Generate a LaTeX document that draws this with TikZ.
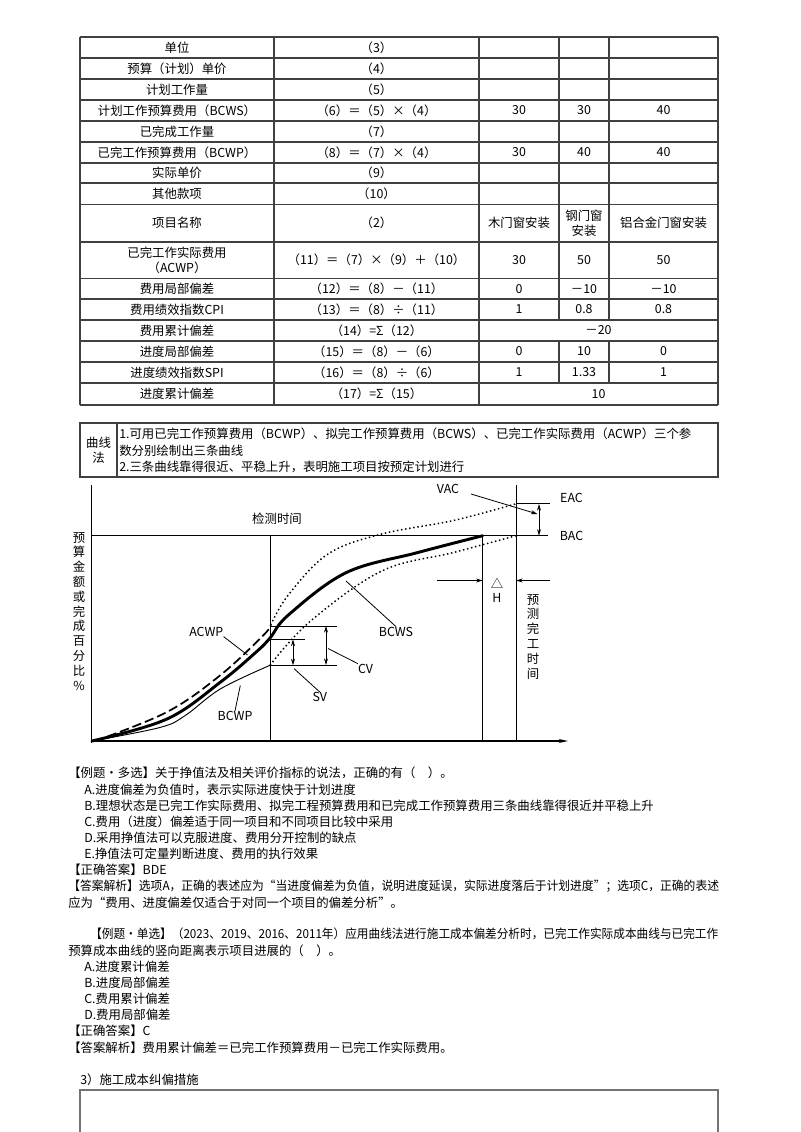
\documentclass[tikz,border=0pt]{standalone}
\usepackage{fontspec}
\usepackage{graphicx}
\setmainfont{Noto Sans CJK SC}
\usetikzlibrary{arrows.meta}
\newcommand\fs{\fontsize{9.3}{11.1}\selectfont}
\tikzset{t/.style={font=\fs,inner sep=0,align=center},
 tl/.style={font=\fs,inner sep=0,anchor=west},
 grid/.style={draw=black!75,line width=0.9pt},
 arr/.style={-{Stealth[length=5pt,width=3pt]},line width=0.6pt},
 darr/.style={{Stealth[length=5pt,width=3pt]}-{Stealth[length=5pt,width=3pt]},line width=0.6pt}}
\begin{document}
\begin{tikzpicture}[x=0.75pt,y=-0.75pt]
\useasboundingbox[fill=white] (0,0) rectangle (800,1132);
% ---------- table ----------
\foreach \y in {37,58,79,100,121,142,163,183,204.5,242,278.5,299,320,341,362,383,405}
  \draw[grid] (80,\y) -- (718,\y);
\foreach \x in {80,274,479,718} \draw[grid] (\x,37) -- (\x,405);
\foreach \x in {559,609} {\draw[grid] (\x,37) -- (\x,320); \draw[grid] (\x,341) -- (\x,383);}
\newcommand\trow[6]{%
 \node[t] (r#1a) at (177,#2) {#3};
 \node[t] (r#1b) at (376.5,#2) {#4};
 \node[t] (r#1c) at (519,#2) {#5};}
\trow{1}{47.5}{单位}{（3）}{}{}
\trow{2}{68.5}{预算（计划）单价}{（4）}{}{}
\trow{3}{89.5}{计划工作量}{（5）}{}{}
\trow{4}{110.5}{计划工作预算费用（BCWS）}{（6）＝（5）×（4）}{30}{}
\trow{5}{131.5}{已完成工作量}{（7）}{}{}
\trow{6}{152.5}{已完工作预算费用（BCWP）}{（8）＝（7）×（4）}{30}{}
\trow{7}{173}{实际单价}{（9）}{}{}
\trow{8}{193.7}{其他款项}{（10）}{}{}
\trow{9}{223.2}{项目名称}{（2）}{木门窗安装}{}
\trow{10}{260.2}{已完工作实际费用\\（ACWP）}{（11）＝（7）×（9）＋（10）}{30}{}
\trow{11}{288.7}{费用局部偏差}{（12）＝（8）－（11）}{0}{}
\trow{12}{309.5}{费用绩效指数CPI}{（13）＝（8）÷（11）}{1}{}
\trow{13}{330.5}{费用累计偏差}{（14）=Σ（12）}{}{}
\trow{14}{351.5}{进度局部偏差}{（15）＝（8）－（6）}{0}{}
\trow{15}{372.5}{进度绩效指数SPI}{（16）＝（8）÷（6）}{1}{}
\trow{16}{394}{进度累计偏差}{（17）=Σ（15）}{}{}
\foreach \n/\y/\b/\c in {4/110.5/30/40,6/152.5/40/40,9/223.2/{钢门窗\\安装}/铝合金门窗安装,10/260.2/50/50,11/288.7/－10/－10,12/309.5/0.8/0.8,14/351.5/10/0,15/372.5/1.33/1}
 {\node[t] (r\n d) at (584,\y) {\b}; \node[t] (r\n e) at (663.5,\y) {\c};}
\node[t] (r13m) at (598.5,330.5) {－20};
\node[t] (r16m) at (598.5,394) {10};
% ---------- curve method box ----------
\draw[grid] (80,423) rectangle (718,477);
\draw[grid] (117,423) -- (117,477);
\node[t] (qx) at (98.5,450) {曲线\\法};
\node[tl] (l1) at (119,434) {1.可用已完工作预算费用（BCWP）、拟完工作预算费用（BCWS）、已完工作实际费用（ACWP）三个参};
\node[tl] (l2) at (119,450.5) {数分别绘制出三条曲线};
\node[tl] (l3) at (119,466.5) {2.三条曲线靠得很近、平稳上升，表明施工项目按预定计划进行};
% ---------- chart ----------
\coordinate (O) at (91.7,741);
\coordinate (Ytop) at (91.7,485);
\coordinate (Xend) at (568,741);
\draw[line width=0.8pt] (Ytop) -- (91.7,743);
\draw[line width=0.8pt,-{Stealth[length=7pt,width=3pt]}] (O) -- (Xend);
\draw[line width=0.6pt] (91.7,535.7) -- (548,535.7);
\draw[line width=0.6pt] (270,535.7) -- (270,741);
\draw[line width=0.6pt] (482.7,535.7) -- (482.7,741);
\draw[line width=0.6pt] (516,485) -- (516,741);
\draw[line width=0.6pt] (516,503.8) -- (550,503.8);
\node[t] (jc) at (277,519) {检测时间};
\node[t] (eac) at (571.5,498) {EAC};
\node[t] (bac) at (571.5,535.7) {BAC};
\draw[darr] (539,504) -- (539,535.7);
\node[t] (vac) at (448,488.6) {VAC};
\draw[arr] (471,494) -- (537.5,514);
% curves
\draw[line width=2.2pt,line cap=round] plot[smooth,tension=0.6] coordinates {(92,741) (167,719) (220.6,682) (256.4,651.8) (270,638) (288.6,614.8) (346,572.7) (417.5,552.6) (482.7,535.7)};
\draw[line width=1.3pt,dash pattern=on 7pt off 3pt] plot[smooth,tension=0.6] coordinates {(95,741) (167,712) (220.6,675) (263.6,635) (270.7,625)};
\draw[line width=0.7pt] plot[smooth,tension=0.6] coordinates {(92,741) (159.8,727.5) (184.8,715.8) (220.6,688.8) (270,665.3)};
\draw[line width=1.1pt,dotted] plot[smooth,tension=0.6] coordinates {(270,665.3) (310,621.5) (381.7,571) (453,552.6) (516,535.7)};
\draw[line width=1.1pt,dotted] plot[smooth,tension=0.6] coordinates {(270.7,625) (288.6,594.6) (328,554) (381.7,534) (453,520.6) (516,503.8)};
% CV SV
\draw[line width=0.6pt] (270,625.9) -- (337,625.9) (270,665.3) -- (337,665.3) (270,639.4) -- (304.7,639.4);
\draw[darr] (326,626) -- (326,665);
\draw[darr] (293,639.4) -- (293,665.3);
\node[t] (cv) at (365.6,668.6) {CV};
\node[t] (sv) at (319.8,697) {SV};
\node[t] (acwp) at (206.3,631.6) {ACWP};
\node[t] (bcwp) at (235,715.8) {BCWP};
\node[t] (bcws) at (396,631.6) {BCWS};
\draw[line width=0.6pt] (328,648.5) -- (cv.north west);
\draw[line width=0.6pt] (294,668.6) -- (sv.north);
\draw[line width=0.6pt] (acwp.south east) -- (247.5,655);
\draw[line width=0.6pt] (bcwp.north) -- (240.3,685.5);
\draw[line width=0.6pt] (bcws.north) -- (346,581);
% Delta H
\draw[arr] (437,580.5) -- (482.7,580.5);
\draw[arr] (550,580.5) -- (516,580.5);
\node[t] (dl) at (497,583.5) {△};
\node[t,font=\fs\itshape] (hh) at (497,598) {H};
\node[t,anchor=north] (yc) at (533,594) {预\\测\\完\\工\\时\\间};
\node[t,anchor=north] (ylab) at (79,532) {预\\算\\金\\额\\或\\完\\成\\百\\分\\比\\\%};
% ---------- text ----------
\node[tl] (p1) at (68,773) {【例题·多选】关于挣值法及相关评价指标的说法，正确的有（\quad）。};
\node[tl] (p2) at (84,789.5) {A.进度偏差为负值时，表示实际进度快于计划进度};
\node[tl] (p3) at (84,806) {B.理想状态是已完工作实际费用、拟完工程预算费用和已完成工作预算费用三条曲线靠得很近并平稳上升};
\node[tl] (p4) at (84,822) {C.费用（进度）偏差适于同一项目和不同项目比较中采用};
\node[tl] (p5) at (84,838) {D.采用挣值法可以克服进度、费用分开控制的缺点};
\node[tl] (p6) at (84,854) {E.挣值法可定量判断进度、费用的执行效果};
\node[tl] (p7) at (68,870) {【正确答案】BDE};
\node[tl] (p8) at (68,886.5) {\scalebox{0.95}[1]{【答案解析】选项A，正确的表述应为“当进度偏差为负值，说明进度延误，实际进度落后于计划进度”；选项C，正确的表述}};
\node[tl] (p9) at (68,903) {应为“费用、进度偏差仅适合于对同一个项目的偏差分析”。};
\node[tl] (q1) at (90,934) {\scalebox{0.94}[1]{【例题·单选】（2023、2019、2016、2011年）应用曲线法进行施工成本偏差分析时，已完工作实际成本曲线与已完工作}};
\node[tl] (q2) at (68,951) {预算成本曲线的竖向距离表示项目进展的（\quad）。};
\node[tl] (q3) at (84,967) {A.进度累计偏差};
\node[tl] (q4) at (84,983) {B.进度局部偏差};
\node[tl] (q5) at (84,999) {C.费用累计偏差};
\node[tl] (q6) at (84,1015) {D.费用局部偏差};
\node[tl] (q7) at (68,1031) {【正确答案】C};
\node[tl] (q8) at (68,1047.5) {【答案解析】费用累计偏差＝已完工作预算费用－已完工作实际费用。};
\node[tl] (s1) at (80,1080) {3）施工成本纠偏措施};
\draw[draw=black!55,line width=0.8pt] (80,1134) -- (80,1090) -- (718,1090) -- (718,1134);
\end{tikzpicture}
\end{document}
